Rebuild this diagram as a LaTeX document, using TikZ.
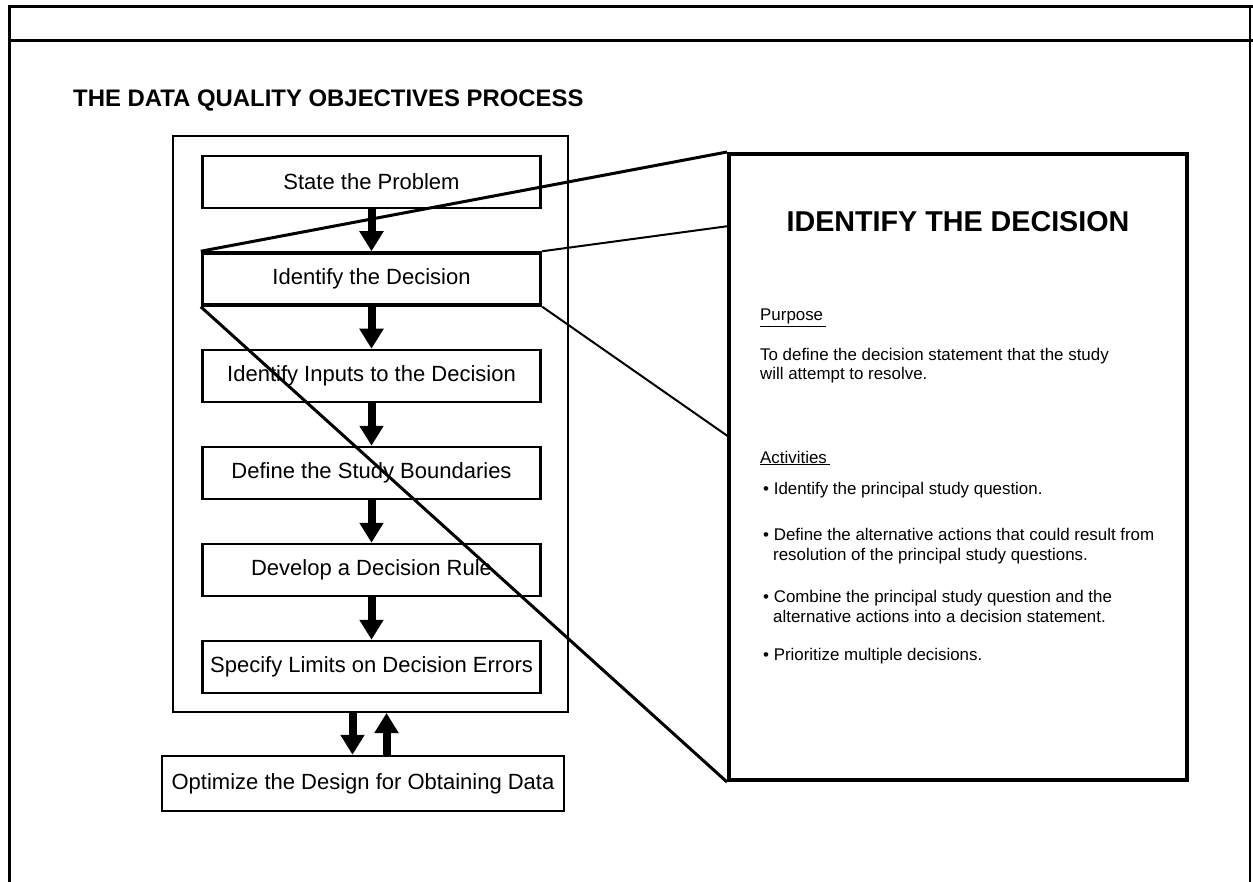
\documentclass[tikz,border=0pt]{standalone}
\usepackage{fontspec}
\setmainfont{Liberation Sans}
\usepackage{tikz}
\usetikzlibrary{arrows.meta}
\usetikzlibrary{positioning}

\tikzset{
    stepbox/.style  ={draw, line width=2.5pt, fill=white, inner sep=0pt,
                      minimum width=338pt, minimum height=52pt,
                      font=\fontsize{22}{26}\selectfont},
    bigarrow/.style ={line width=8pt, -{Triangle[width=23pt,length=20pt]}},
    bodytext/.style ={anchor=base west, inner sep=0pt, font=\fontsize{16.9}{20}\selectfont},
}

\begin{document}
\begin{tikzpicture}[x=1pt, y=-1pt]
        \useasboundingbox (0,0) rectangle (1253,882);
        % page frame
        \draw[line width=3pt] (9.5,882) -- (9.5,6.5) -- (1253,6.5);
        \draw[line width=3pt] (8,40.5)  -- (1253,40.5);
        \draw[line width=2pt] (1250,6.5) -- (1250,882);

        \node[anchor=base west, inner sep=0pt, font=\bfseries\fontsize{23.9}{29}\selectfont]
             (title) at (73,107) {THE DATA QUALITY OBJECTIVES PROCESS};

        % the seven steps
        \node[draw, line width=2pt, minimum width=395pt, minimum height=576pt] (dqo) at (370.5,424) {};
        \node[stepbox]                  (state)  at (371.5,182) {State the Problem};
        \node[stepbox, line width=3.5pt] (idd)    at (371.5,279) {Identify the Decision};
        \node[stepbox]                  (inputs) at (371.5,376) {Identify Inputs to the Decision};
        \node[stepbox]                  (bounds) at (371.5,473) {Define the Study Boundaries};
        \node[stepbox]                  (rule)   at (371.5,570) {Develop a Decision Rule};
        \node[stepbox]                  (limits) at (371.5,667) {Specify Limits on Decision Errors};
        \node[stepbox, minimum width=402pt, minimum height=55pt] (opt) at (363,783.5)
             {Optimize the Design for Obtaining Data};

        \draw[bigarrow] (state)  -- (idd);
        \draw[bigarrow] (idd)    -- (inputs);
        \draw[bigarrow] (inputs) -- (bounds);
        \draw[bigarrow] (bounds) -- (rule);
        \draw[bigarrow] (rule)   -- (limits);
        \draw[bigarrow] ([xshift=-18pt]dqo.south) -- ([xshift=-18pt]dqo.south |- opt.north);
        \draw[bigarrow] ([xshift=16pt]dqo.south |- opt.north) -- ([xshift=16pt]dqo.south);

        % blown-up step
        \node[draw, line width=4pt, minimum width=458pt, minimum height=626pt] (detail) at (958,467) {};
        \coordinate (wedgeA) at (729,226);
        \coordinate (wedgeB) at (729,437);
        \draw[line width=3pt] (idd.north west) -- (detail.north west);
        \draw[line width=2pt] (idd.north east) -- (wedgeA);
        \draw[line width=3pt] (idd.south west) -- (detail.south west);
        \draw[line width=2pt] (idd.south east) -- (wedgeB);

        \node[font=\bfseries\fontsize{28.7}{34}\selectfont, inner sep=0pt] (dtitle) at (958,222)
             {IDENTIFY THE DECISION};
        \node[bodytext] (purpose) at (760,321) {\underline{Purpose\,}};
        \node[bodytext] (purp1)   at (760,361) {To define the decision statement that the study};
        \node[bodytext] (purp2)   at (760,380) {will attempt to resolve.};
        \node[bodytext] (activ)   at (760,463) {\underline{Activities\,}};
        \node[bodytext] (act1)    at (763,494) {\textbullet\ Identify the principal study question.};
        \node[bodytext] (act2)    at (763,540) {\textbullet\ Define the alternative actions that could result from};
        \node[bodytext] (act2b)   at (773,560) {resolution of the principal study questions.};
        \node[bodytext] (act3)    at (763,602) {\textbullet\ Combine the principal study question and the};
        \node[bodytext] (act3b)   at (773,622) {alternative actions into a decision statement.};
        \node[bodytext] (act4)    at (763,660) {\textbullet\ Prioritize multiple decisions.};
\end{tikzpicture}
\end{document}
